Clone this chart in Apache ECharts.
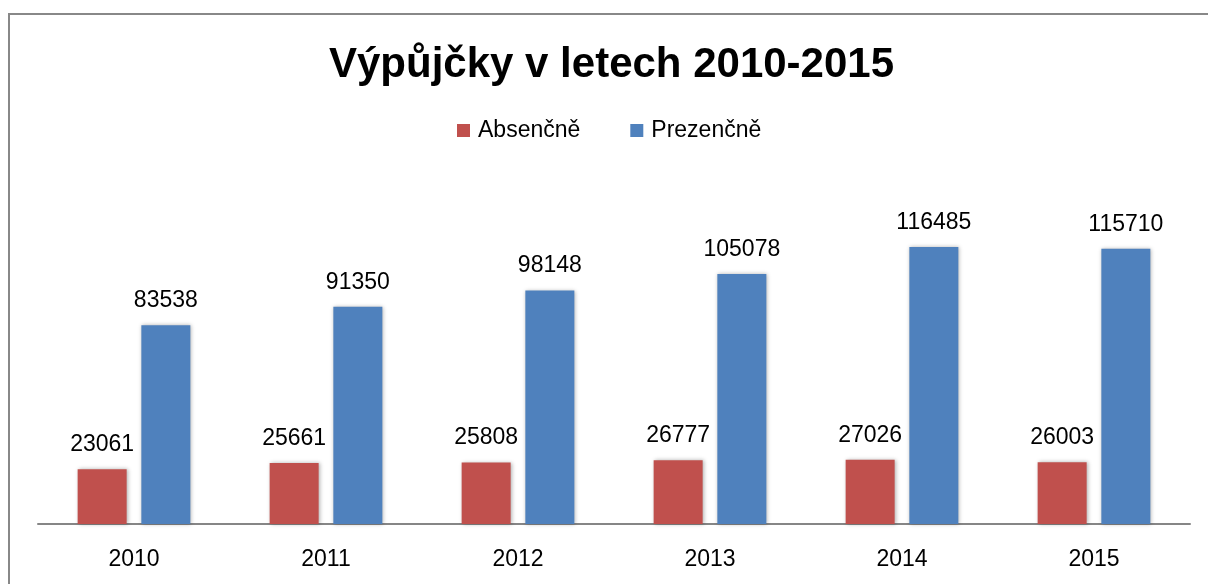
<!DOCTYPE html>
<html>
<head>
<meta charset="utf-8">
<script src="https://cdn.jsdelivr.net/npm/echarts@6/dist/echarts.min.js"></script>
<style>
  html, body { margin: 0; padding: 0; background: #fff; }
  #main { width: 1208px; height: 584px; }
</style>
</head>
<body>
<div id="main"></div>
<script>
const years = ['2010', '2011', '2012', '2013', '2014', '2015'];
const absencne = [23061, 25661, 25808, 26777, 27026, 26003];
const prezencne = [83538, 91350, 98148, 105078, 116485, 115710];

const chart = echarts.init(document.getElementById('main'));
const font = '"Liberation Sans", Arial, sans-serif';

const labelStyle = {
  show: true,
  position: 'top',
  distance: 13,
  color: '#000',
  fontSize: 23,
  fontFamily: font
};
const barShadow = {
  shadowBlur: 4,
  shadowColor: 'rgba(0, 0, 0, 0.3)',
  shadowOffsetX: 1,
  shadowOffsetY: 0
};

var option = {
  backgroundColor: '#ffffff',
  animation: false,
  color: ['#C0504D', '#4F81BD'],
  title: {
    text: 'Výpůjčky v letech 2010-2015',
    left: 324,
    top: 39,
    textStyle: {
      fontFamily: font,
      fontSize: 42,
      fontWeight: 'bold',
      color: '#000'
    }
  },
  legend: {
    top: 114,
    left: 452,
    itemWidth: 13,
    itemHeight: 13,
    itemGap: 50,
    icon: 'rect',
    textStyle: {
      fontFamily: font,
      fontSize: 23,
      color: '#000',
      padding: [0, 0, 0, 3]
    }
  },
  grid: {
    left: 38,
    right: 18,
    top: 191,
    bottom: 60,
    containLabel: false
  },
  xAxis: {
    type: 'category',
    data: years,
    axisLine: { lineStyle: { color: '#868686', width: 2 } },
    axisTick: { show: false },
    axisLabel: {
      color: '#000',
      fontSize: 23,
      fontFamily: font,
      margin: 24
    }
  },
  yAxis: {
    type: 'value',
    min: 0,
    max: 140000,
    show: false,
    splitLine: { show: false }
  },
  graphic: [{
    type: 'rect',
    shape: { x: 9, y: 14, width: 1400, height: 800 },
    style: { fill: 'none', stroke: '#888888', lineWidth: 2 },
    silent: true
  }],
  series: [{
    name: 'Absenčně',
    type: 'bar',
    data: absencne,
    barWidth: 49,
    barGap: '30%',
    label: labelStyle,
    itemStyle: barShadow
  }, {
    name: 'Prezenčně',
    type: 'bar',
    data: prezencne,
    barWidth: 49,
    barGap: '30%',
    label: labelStyle,
    itemStyle: barShadow
  }]
};

chart.setOption(option);
</script>
</body>
</html>
